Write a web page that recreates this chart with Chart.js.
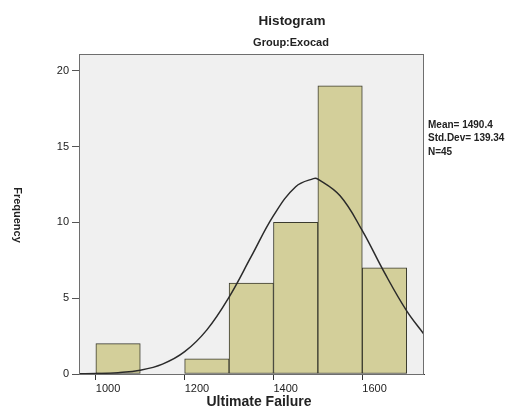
<!DOCTYPE html>
<html>
<head>
<meta charset="utf-8">
<script src="https://cdn.jsdelivr.net/npm/chart.js@4"></script>
<style>
  html, body { margin: 0; padding: 0; background: #fff; }
  #wrap { width: 505px; height: 408px; position: relative; }
</style>
</head>
<body>
<div id="wrap"><canvas id="hist"></canvas></div>
<script>
// Histogram data: bin centres (width 100) and their counts
const binCenters = [1050, 1250, 1350, 1450, 1550, 1650];
const binCounts = [2, 1, 6, 10, 19, 7];

// Fitted normal curve
const curveX = [962, 1000, 1050, 1100, 1150, 1200, 1250, 1300, 1350, 1400, 1450, 1490, 1500, 1550, 1600, 1650, 1700, 1739];
const curveY = [0.01, 0.03, 0.09, 0.25, 0.65, 1.47, 2.91, 5.07, 7.75, 10.44, 12.35, 12.88, 12.85, 11.75, 9.45, 6.68, 4.16, 2.62];

const xTicks = [1000, 1200, 1400, 1600];
const yTicks = [0, 5, 10, 15, 20];

const statsLines = ['Mean= 1490.4', 'Std.Dev= 139.34', 'N=45'];

const FONT = '"Liberation Sans", Arial, sans-serif';

// plot background, frame and free text
const decorations = {
    id: 'decorations',
    beforeDraw(chart) {
        const { ctx, chartArea: a } = chart;
        ctx.save();
        ctx.fillStyle = '#f0f0f0';
        ctx.fillRect(a.left, a.top, a.right - a.left, a.bottom - a.top);
        ctx.restore();
    },
    afterDraw(chart) {
        const { ctx, chartArea: a } = chart;
        ctx.save();
        ctx.strokeStyle = '#6e6e6e';
        ctx.lineWidth = 1;
        ctx.strokeRect(a.left + 0.5, a.top + 0.5, a.right - a.left - 1, a.bottom - a.top);

        ctx.fillStyle = '#222';
        ctx.textAlign = 'center';
        ctx.textBaseline = 'middle';
        ctx.font = 'bold 13.5px ' + FONT;
        ctx.fillText('Histogram', 292, 21);
        ctx.font = 'bold 11px ' + FONT;
        ctx.fillText('Group:Exocad', 291, 43);

        ctx.font = 'bold 14px ' + FONT;
        ctx.fillText('Ultimate Failure', 259, 402);

        // y title reads top to bottom
        ctx.save();
        ctx.translate(17, 215);
        ctx.rotate(Math.PI / 2);
        ctx.font = 'bold 11px ' + FONT;
        ctx.fillText('Frequency', 0, 0);
        ctx.restore();

        ctx.textAlign = 'left';
        ctx.font = 'bold 10px ' + FONT;
        statsLines.forEach((line, i) => {
            ctx.fillText(line, 428, 125 + i * 13.5);
        });
        ctx.restore();
    }
};

new Chart(document.getElementById('hist'), {
    data: {
        datasets: [
            {
                type: 'bar',
                data: binCenters.map((c, i) => ({ x: c, y: binCounts[i] })),
                backgroundColor: '#d3cf9a',
                borderColor: '#3a3a2e',
                borderWidth: 1,
                borderSkipped: false,
                barPercentage: 1,
                categoryPercentage: 1,
                order: 2
            },
            {
                type: 'line',
                data: curveX.map((x, i) => ({ x: x, y: curveY[i] })),
                borderColor: '#2a2a2a',
                borderWidth: 1.5,
                pointRadius: 0,
                tension: 0.4,
                fill: false,
                order: 1
            }
        ]
    },
    options: {
        responsive: true,
        maintainAspectRatio: false,
        animation: false,
        layout: { padding: { left: 0, right: 81, top: 54, bottom: 0 } },
        plugins: {
            legend: { display: false },
            tooltip: { enabled: false }
        },
        scales: {
            x: {
                type: 'linear',
                offset: false,
                min: 962,
                max: 1739,
                afterBuildTicks: (axis) => { axis.ticks = xTicks.map(v => ({ value: v })); },
                afterFit: (axis) => { axis.height = 34; },
                border: { display: true, color: '#333', width: 1 },
                grid: { offset: false, drawOnChartArea: false, tickLength: 6, color: '#333', tickColor: '#333' },
                ticks: {
                    align: 'start',
                    padding: 2,
                    color: '#222',
                    font: { family: FONT, size: 11 },
                    callback: (v) => String(v)
                }
            },
            y: {
                min: 0,
                max: 21.1,
                afterBuildTicks: (axis) => { axis.ticks = yTicks.map(v => ({ value: v })); },
                afterFit: (axis) => { axis.width = 79; },
                border: { display: false },
                grid: { drawOnChartArea: false, tickLength: 7, tickColor: '#555' },
                ticks: {
                    padding: 3,
                    color: '#222',
                    font: { family: FONT, size: 11 }
                }
            }
        }
    },
    plugins: [decorations]
});
</script>
</body>
</html>
